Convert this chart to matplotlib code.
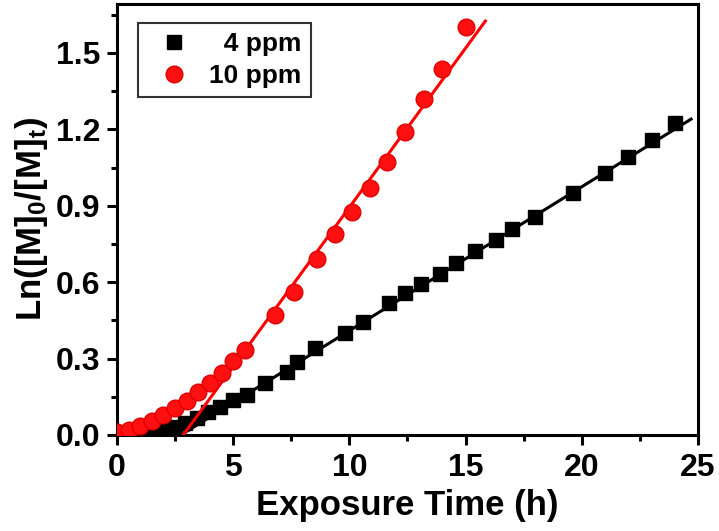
import numpy as np
import matplotlib
matplotlib.use('Agg')
import matplotlib.pyplot as plt
from matplotlib.ticker import MultipleLocator, FormatStrFormatter

plt.rcParams['font.family'] = ['Liberation Sans', 'DejaVu Sans']
plt.rcParams['font.weight'] = 'bold'
plt.rcParams['mathtext.fontset'] = 'custom'
plt.rcParams['mathtext.rm'] = 'Liberation Sans:bold'
plt.rcParams['mathtext.it'] = 'Liberation Sans:bold'
plt.rcParams['mathtext.bf'] = 'Liberation Sans:bold'

# 4 ppm data (h, ln(M0/Mt))
time_4ppm = [0, 0.5, 1.0, 1.5, 2.0, 2.5, 2.93, 3.43, 3.93, 4.43, 5.0, 5.6,
             6.37, 7.3, 7.75, 8.5, 9.8, 10.6, 11.7, 12.4, 13.1, 13.9, 14.6,
             15.4, 16.3, 17.0, 18.0, 19.6, 21.0, 22.0, 23.0, 24.0]
ln_4ppm = [0.0, 0.0, 0.005, 0.01, 0.02, 0.03, 0.046, 0.065, 0.092, 0.111, 0.137, 0.157,
           0.203, 0.249, 0.288, 0.34, 0.402, 0.445, 0.517, 0.556, 0.592, 0.632, 0.674,
           0.724, 0.766, 0.808, 0.855, 0.951, 1.027, 1.09, 1.158, 1.224]

# 10 ppm data
time_10ppm = [0, 0.5, 1.0, 1.5, 2.0, 2.5, 3.0, 3.5, 4.0, 4.5, 5.0, 5.5,
              6.8, 7.6, 8.6, 9.4, 10.1, 10.9, 11.6, 12.4, 13.2, 14.0, 15.0]
ln_10ppm = [0.01, 0.02, 0.035, 0.055, 0.08, 0.105, 0.135, 0.17, 0.205, 0.245, 0.29, 0.335,
            0.47, 0.56, 0.69, 0.79, 0.875, 0.97, 1.07, 1.19, 1.32, 1.435, 1.60]

# linear fit lines (endpoints)
fit_x_4ppm = [2.75, 24.7]
fit_y_4ppm = [0.0, 1.24]
fit_x_10ppm = [2.85, 15.85]
fit_y_10ppm = [0.0, 1.625]

fig = plt.figure(figsize=(7.19, 5.31), dpi=100)
ax = fig.add_axes([0.1627, 0.1808, 0.8081, 0.8117])

ax.plot(fit_x_4ppm, fit_y_4ppm, '-', color='black', lw=2.2, zorder=2)
ax.plot(time_4ppm, ln_4ppm, 's', color='black', ms=10.5, ls='none',
        label='  4 ppm', zorder=3)
ax.plot(fit_x_10ppm, fit_y_10ppm, '-', color='#ff0000', lw=2.2, zorder=4)
ax.plot(time_10ppm, ln_10ppm, 'o', color='#ff1010', mec='#e00000', ms=12,
        ls='none', label='10 ppm', zorder=5)

ax.set_xlim(0, 25)
ax.set_ylim(0, 1.692)
ax.xaxis.set_major_locator(MultipleLocator(5))
ax.xaxis.set_minor_locator(MultipleLocator(2.5))
ax.yaxis.set_major_locator(MultipleLocator(0.3))
ax.yaxis.set_minor_locator(MultipleLocator(0.15))
ax.yaxis.set_major_formatter(FormatStrFormatter('%.1f'))

for s in ax.spines.values():
    s.set_linewidth(2.2)
ax.tick_params(which='major', direction='out', length=7, width=2.2,
               labelsize=23, pad=3)
ax.tick_params(axis='x', which='major', pad=6)
ax.tick_params(axis='y', which='major', pad=5)
ax.tick_params(which='minor', direction='out', length=4, width=2.2)

ax.set_xlabel('Exposure Time (h)', fontsize=25, fontweight='bold', labelpad=4)
ax.set_ylabel(r'Ln([M]$_0$/[M]$_t$)', fontsize=25, fontweight='bold', labelpad=4)

leg = ax.legend(loc='upper left', bbox_to_anchor=(0.036, 0.956), borderaxespad=0,
                fontsize=19, frameon=True, fancybox=False, handletextpad=0.35,
                borderpad=0.35, labelspacing=0.3, handlelength=2.0)
leg.get_frame().set_edgecolor('black')
leg.get_frame().set_linewidth(1.5)
for t in leg.get_texts():
    t.set_fontweight('bold')

fig.savefig('out.png', dpi=100)
